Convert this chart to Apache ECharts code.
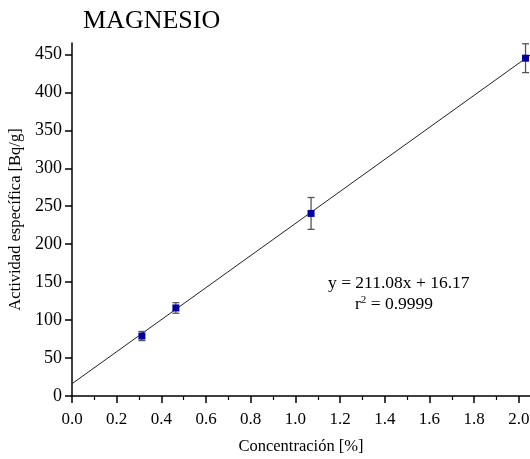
<!DOCTYPE html>
<html>
<head>
<meta charset="utf-8">
<script src="https://cdn.jsdelivr.net/npm/echarts@6/dist/echarts.min.js"></script>
<style>
  html, body { margin: 0; padding: 0; background: #fff; }
  #chart { width: 530px; height: 459px; }
</style>
</head>
<body>
<div id="chart"></div>
<script>
// Measured samples: concentration (%) vs specific activity (Bq/g) with uncertainty
const concentration = [0.313, 0.465, 1.07, 2.03];
const activity = [79, 116, 240.5, 445];
const activityErr = [6, 7, 21, 19];

// Linear fit parameters
const slope = 211.08;
const intercept = 16.17;
const r2 = '0.9999';

const xTicks = [0, 0.2, 0.4, 0.6, 0.8, 1.0, 1.2, 1.4, 1.6, 1.8, 2.0];
const yTicks = [0, 50, 100, 150, 200, 250, 300, 350, 400, 450];

const X_MAX = 2.05;
const Y_MAX = 465;

const points = concentration.map((x, i) => [x, activity[i]]);
const errBars = concentration.map((x, i) => [x, activity[i] - activityErr[i], activity[i] + activityErr[i]]);
const fitLine = [[0, intercept], [X_MAX, intercept + slope * X_MAX]];

const serif = '"Liberation Serif", "DejaVu Serif", serif';
const chart = echarts.init(document.getElementById('chart'));

chart.setOption({
  animation: false,
  title: {
    text: 'MAGNESIO',
    left: 78,
    top: 3,
    textStyle: { fontFamily: serif, fontSize: 26, fontWeight: 'normal', color: '#000' }
  },
  grid: { left: 72, right: 0, top: 43, bottom: 63, outerBoundsMode: 'none', containLabel: false },
  xAxis: {
    type: 'value',
    min: 0,
    max: X_MAX,
    interval: 0.2,
    name: 'Concentración [%]',
    nameLocation: 'middle',
    nameGap: 42,
    nameTextStyle: { fontFamily: serif, fontSize: 16.5, color: '#000' },
    axisLine: { show: true, lineStyle: { color: '#000', width: 1.5 } },
    axisTick: { show: true, length: 7, inside: false, customValues: xTicks, lineStyle: { color: '#000', width: 1.5 } },
    minorTick: { show: true, splitNumber: 2, length: 4, lineStyle: { color: '#000', width: 1.2 } },
    axisLabel: {
      customValues: xTicks,
      formatter: v => v.toFixed(1),
      fontFamily: serif, fontSize: 17, color: '#000', margin: 15
    },
    splitLine: { show: false }
  },
  yAxis: {
    type: 'value',
    min: 0,
    max: Y_MAX,
    interval: 50,
    name: 'Actividad específica [Bq/g]',
    nameLocation: 'middle',
    nameGap: 48,
    nameTextStyle: { fontFamily: serif, fontSize: 16.5, color: '#000' },
    axisLine: { show: true, lineStyle: { color: '#000', width: 1.5 } },
    axisTick: { show: true, length: 7, customValues: yTicks, lineStyle: { color: '#000', width: 1.5 } },
    axisLabel: {
      customValues: yTicks,
      fontFamily: serif, fontSize: 18, color: '#000', margin: 10
    },
    splitLine: { show: false }
  },
  series: [
    {
      type: 'line',
      data: fitLine,
      symbol: 'none',
      lineStyle: { color: '#222', width: 1 },
      z: 1
    },
    {
      type: 'custom',
      data: errBars,
      z: 2,
      renderItem: function (params, api) {
        const x = api.value(0);
        const lo = api.coord([x, api.value(1)]);
        const hi = api.coord([x, api.value(2)]);
        const cap = 3.5;
        const style = { stroke: '#555', lineWidth: 1.3 };
        return {
          type: 'group',
          children: [
            { type: 'line', shape: { x1: lo[0], y1: lo[1], x2: hi[0], y2: hi[1] }, style: style },
            { type: 'line', shape: { x1: lo[0] - cap, y1: lo[1], x2: lo[0] + cap, y2: lo[1] }, style: style },
            { type: 'line', shape: { x1: hi[0] - cap, y1: hi[1], x2: hi[0] + cap, y2: hi[1] }, style: style }
          ]
        };
      }
    },
    {
      type: 'scatter',
      data: points,
      symbol: 'rect',
      symbolSize: 7,
      itemStyle: { color: '#0000a0', opacity: 1 },
      z: 3
    }
  ],
  graphic: [
    {
      type: 'text',
      left: 328,
      top: 274,
      style: {
        text: 'y = ' + slope.toFixed(2) + 'x + ' + intercept.toFixed(2),
        font: '17.5px ' + serif,
        fill: '#000'
      }
    },
    {
      type: 'text',
      left: 355,
      top: 295,
      style: {
        rich: {
          n: { font: '17.5px ' + serif, fill: '#000' },
          s: { font: '11px ' + serif, fill: '#000', verticalAlign: 'top', padding: [0, 0, 8, 0] }
        },
        text: '{n|r}{s|2}{n| = ' + r2 + '}'
      }
    }
  ]
});
</script>
</body>
</html>
